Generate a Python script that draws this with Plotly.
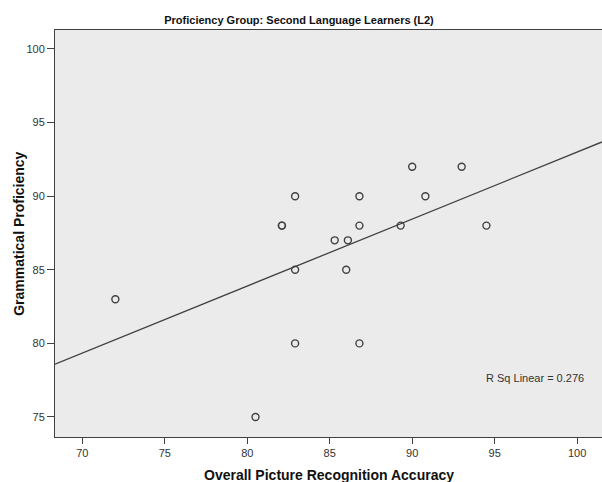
import numpy as np
import plotly.graph_objects as go

# Data
recognition_accuracy = [72.0, 80.5, 82.1, 82.1, 82.9, 82.9, 82.9, 85.3, 86.0, 86.1,
                        86.8, 86.8, 86.8, 89.3, 90.0, 90.8, 93.0, 94.5]
grammatical_proficiency = [83, 75, 88, 88, 90, 85, 80, 87, 85, 87,
                           90, 88, 80, 88, 92, 90, 92, 88]

x_tick_values = [70, 75, 80, 85, 90, 95, 100]
y_tick_values = [75, 80, 85, 90, 95, 100]
x_range = [68.34, 101.51]
y_range = [73.64, 101.29]

title_text = "Proficiency Group: Second Language Learners (L2)"
x_title = "Overall Picture Recognition Accuracy"
y_title = "Grammatical Proficiency"
rsq_label = "R Sq Linear = 0.276"

FONT = "Liberation Sans, Arial, sans-serif"
DARK = "#333333"

# Linear fit computed from data
slope, intercept = np.polyfit(recognition_accuracy, grammatical_proficiency, 1)
fit_x = np.array(x_range)
fit_y = slope * fit_x + intercept

fig = go.Figure()
fig.add_trace(go.Scatter(
    x=fit_x, y=fit_y, mode="lines",
    line=dict(color="#404040", width=1.3),
    hoverinfo="skip", showlegend=False,
))
fig.add_trace(go.Scatter(
    x=recognition_accuracy, y=grammatical_proficiency, mode="markers",
    marker=dict(symbol="circle-open", size=7, color="#404040",
                line=dict(width=1.4, color="#404040")),
    showlegend=False,
))

fig.update_layout(
    width=602, height=482,
    margin=dict(l=55, r=0, t=30, b=45),
    paper_bgcolor="white",
    plot_bgcolor="#EBEBEB",
    font=dict(family=FONT, size=11, color=DARK),
    title=dict(text="<b>" + title_text + "</b>",
               font=dict(family=FONT, size=11, color="#111111"),
               xref="container", yref="container",
               x=299 / 602, y=1 - 20 / 482,
               xanchor="center", yanchor="middle"),
    xaxis=dict(range=x_range, tickvals=x_tick_values, showgrid=False,
               zeroline=False, showline=True, linecolor="#404040", linewidth=1,
               mirror=True, ticks="outside", ticklen=6, tickcolor="#404040",
               tickfont=dict(family=FONT, size=11, color=DARK)),
    yaxis=dict(range=y_range, tickvals=y_tick_values, showgrid=False,
               zeroline=False, showline=True, linecolor="#404040", linewidth=1,
               ticks="outside", ticklen=7, tickcolor="#404040",
               ticklabelstandoff=0,
               tickfont=dict(family=FONT, size=11, color=DARK)),
    annotations=[
        dict(text="<b>" + x_title + "</b>", xref="paper", yref="paper",
             x=0.5, y=-0.094, xanchor="center", yanchor="middle",
             showarrow=False, font=dict(family=FONT, size=14, color="#111111")),
        dict(text="<b>" + y_title + "</b>", xref="paper", yref="paper",
             x=-0.0671, y=0.5, xanchor="center", yanchor="middle",
             textangle=-90, showarrow=False,
             font=dict(family=FONT, size=14, color="#111111")),
        dict(text=rsq_label, xref="paper", yref="paper",
             x=(535 - 55) / 547, y=(436.7 - 377.3) / 406.7,
             xanchor="center", yanchor="middle", showarrow=False,
             font=dict(family=FONT, size=11, color=DARK)),
    ],
)

fig.write_html(
    "out.html",
    config={"displayModeBar": False},
    post_script="document.body.style.margin='0';document.body.style.overflow='hidden';",
)
